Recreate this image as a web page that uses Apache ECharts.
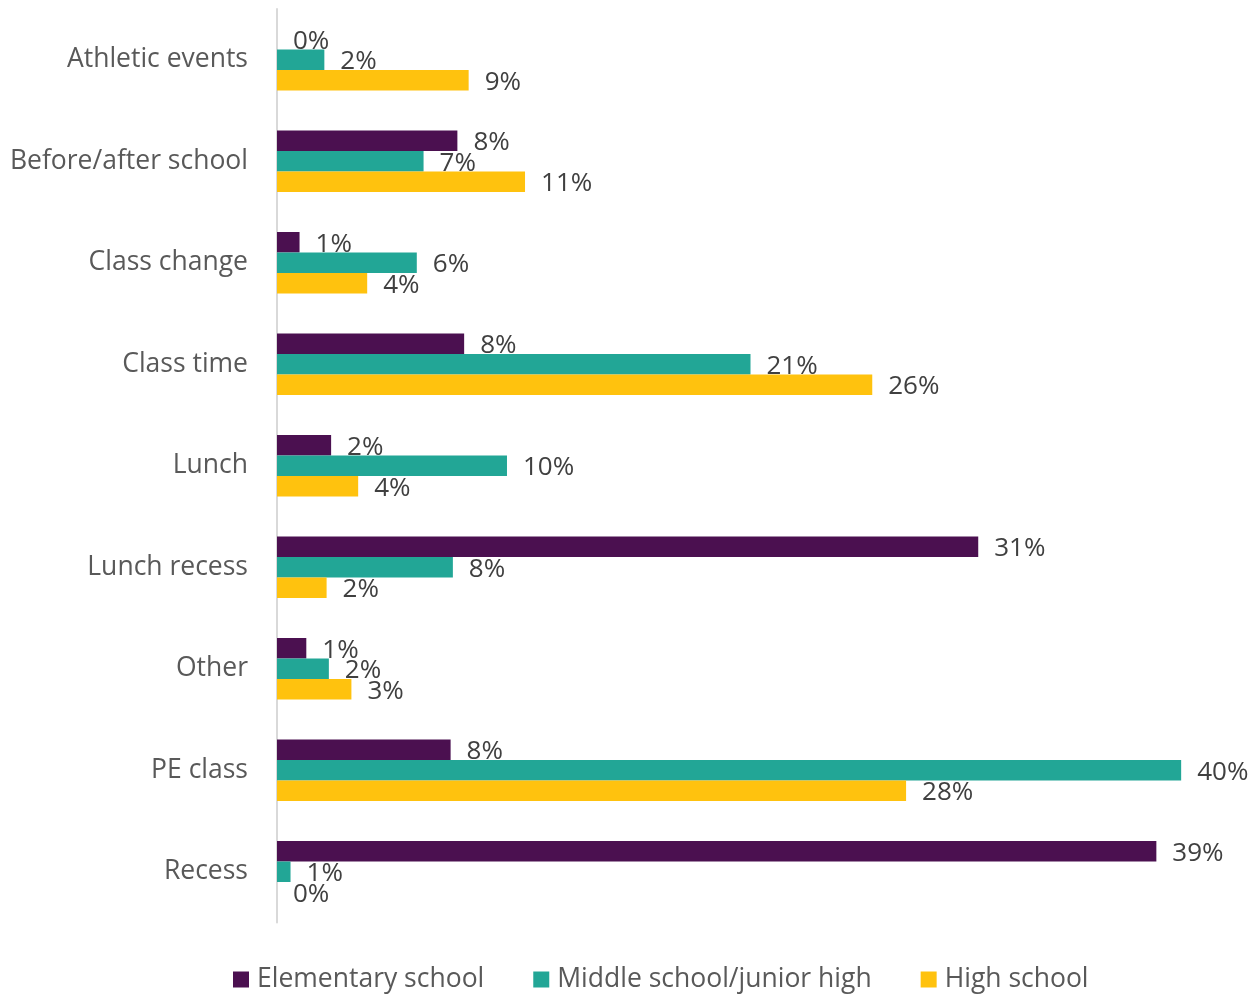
<!DOCTYPE html>
<html>
<head>
<meta charset="utf-8">
<script src="https://cdn.jsdelivr.net/npm/echarts@6/dist/echarts.min.js"></script>
<style>html,body{margin:0;padding:0;background:#fff}#c{width:1256px;height:994px}</style>
</head>
<body>
<div id="c"></div>
<script>
const categories = ['Athletic events','Before/after school','Class change','Class time','Lunch','Lunch recess','Other','PE class','Recess'];
const seriesNames = ['Elementary school','Middle school/junior high','High school'];
const elementary = [0, 8.0, 1.0, 8.3, 2.4, 31.1, 1.3, 7.7, 39.0];
const middle = [2.1, 6.5, 6.2, 21.0, 10.2, 7.8, 2.3, 40.1, 0.6];
const high = [8.5, 11.0, 4.0, 26.4, 3.6, 2.2, 3.3, 27.9, 0];
const colors = ['#4b1050', '#22a696', '#ffc20e'];

const chart = echarts.init(document.getElementById('c'));
const font = '"Open Sans", "Noto Sans", sans-serif';
function mk(name, data, color) {
  return {
    name: name, type: 'bar', data: data, barWidth: 20.5, barGap: '0%',
    itemStyle: { color: color },
    label: { show: true, position: 'right', distance: 16, offset: [0, 2], color: '#404040', fontSize: 26, fontFamily: font,
      formatter: p => Math.round(p.value) + '%' },
    animation: false
  };
}
chart.setOption({
  animation: false,
  textStyle: { fontFamily: font },
  grid: { left: 277, top: 9, bottom: 994 - 9 - 913.5, right: 32, containLabel: false },
  xAxis: { type: 'value', min: 0, max: 42, show: false },
  yAxis: {
    type: 'category', data: categories, inverse: true,
    axisLine: { show: true, lineStyle: { color: '#d9d9d9', width: 2 } },
    axisTick: { show: false },
    axisLabel: { color: '#595959', fontSize: 26.5, fontFamily: font, margin: 29, padding: [5, 0, 0, 0] }
  },
  legend: {
    bottom: -4, left: 228, itemWidth: 16, itemHeight: 16, itemGap: 49, icon: 'rect',
    textStyle: { color: '#595959', fontSize: 26.5, fontFamily: font, padding: [0, 0, 0, 3] },
    data: seriesNames
  },
  series: [mk(seriesNames[0], elementary, colors[0]), mk(seriesNames[1], middle, colors[1]), mk(seriesNames[2], high, colors[2])]
});
</script>
</body>
</html>
